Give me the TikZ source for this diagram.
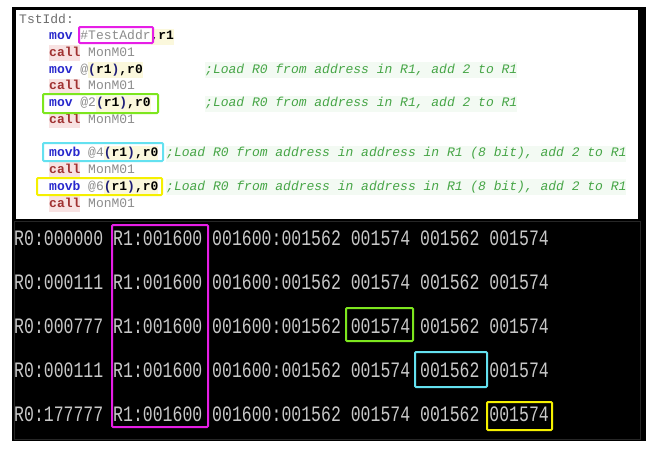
\documentclass[tikz,border=0pt]{standalone}
\usepackage{fontspec}
\usepackage{xcolor}
\newfontfamily\codefont{Liberation Mono}
\newfontfamily\termfont[FakeStretch=0.75]{Liberation Mono}
\definecolor{kwblue}{RGB}{40,40,205}
\definecolor{pnblue}{RGB}{30,30,120}
\definecolor{callred}{RGB}{160,50,50}
\definecolor{callbg}{RGB}{248,226,226}
\definecolor{regbg}{RGB}{251,248,220}
\definecolor{codegray}{RGB}{140,140,140}
\definecolor{lblgray}{RGB}{110,110,110}
\definecolor{comgreen}{RGB}{70,165,70}
\definecolor{combg}{RGB}{243,250,243}
\definecolor{termgray}{RGB}{200,200,200}
\definecolor{termedge}{RGB}{38,38,38}
\definecolor{boxmag}{RGB}{230,30,230}
\definecolor{boxgreen}{RGB}{125,230,30}
\definecolor{boxcyan}{RGB}{100,225,240}
\definecolor{boxyellow}{RGB}{245,240,0}
\setlength{\fboxsep}{0pt}
\newcommand\cKw[1]{\textcolor{kwblue}{\bfseries #1}}
\newcommand\cPn[1]{\textcolor{pnblue}{#1}}
\newcommand\cCall{\colorbox{callbg}{\strut\textcolor{callred}{\bfseries call}}}
\newcommand\cGr[1]{\textcolor{codegray}{#1}}
\newcommand\cRg[1]{\colorbox{regbg}{\strut\textcolor{black}{\bfseries #1}}}
\newcommand\cCom[1]{\colorbox{combg}{\strut\textcolor{comgreen}{\itshape #1}}}
\tikzset{
  code/.style={anchor=base west, inner sep=0pt, font=\codefont\fontsize{13}{16}\selectfont},
  term/.style={anchor=base west, inner sep=0pt, text=termgray, font=\termfont\fontsize{22}{22}\selectfont},
  hlbox/.style={draw=#1, line width=2pt, rounded corners=1pt},
}
\begin{document}
\begin{tikzpicture}[x=1pt,y=-1pt]
\useasboundingbox (0,0) rectangle (656,453);
\fill[white] (0,0) rectangle (656,453);
% frames
\fill[black] (12,7) rectangle (646,441);
\fill[white] (16,10) rectangle (638,219);
\draw[termedge, line width=0.8pt] (14,221) rectangle (640,439);
% code listing
\node[code, text=lblgray] (l0) at (19,23) {TstIdd:};
\node[code] (l1) at (49,39.7) {\cKw{mov} \cGr{\#TestAddr}\cRg{,r1}};
\node[code] (l2) at (49,56.5) {\cCall{} \cGr{MonM01}};
\node[code] (l3) at (49,73.2) {\cKw{mov} \cGr{@}\cRg{\cPn{(}r1\cPn{)},r0}};
\node[code] (c3) at (205,73.2) {\cCom{;Load R0 from address in R1, add 2 to R1}};
\node[code] (l4) at (49,89.9) {\cCall{} \cGr{MonM01}};
\node[code] (l5) at (49,106.7) {\cKw{mov} \cGr{@2}\cRg{\cPn{(}r1\cPn{)},r0}};
\node[code] (c5) at (205,106.7) {\cCom{;Load R0 from address in R1, add 2 to R1}};
\node[code] (l6) at (49,123.4) {\cCall{} \cGr{MonM01}};
\node[code] (l8) at (49,156.8) {\cKw{movb} \cGr{@4}\cRg{\cPn{(}r1\cPn{)},r0}};
\node[code] (c8) at (166,156.8) {\cCom{;Load R0 from address in address in R1 (8 bit), add 2 to R1}};
\node[code] (l9) at (49,173.6) {\cCall{} \cGr{MonM01}};
\node[code] (l10) at (49,190.3) {\cKw{movb} \cGr{@6}\cRg{\cPn{(}r1\cPn{)},r0}};
\node[code] (c10) at (166,190.3) {\cCom{;Load R0 from address in address in R1 (8 bit), add 2 to R1}};
\node[code] (l11) at (49,207) {\cCall{} \cGr{MonM01}};
% code highlight boxes
\draw[hlbox=boxmag] (79,27) rectangle (153,43);
\draw[hlbox=boxgreen] (43,94) rectangle (158,113);
\draw[hlbox=boxcyan] (43,143) rectangle (163,161);
\draw[hlbox=boxyellow] (37,178) rectangle (162,195);
% terminal output
\foreach \k/\rz in {0/000000,1/000111,2/000777,3/000111,4/177777}{
  \pgfmathsetmacro{\yb}{245.3+44*\k}
  \node[term] (r0\k) at (14,\yb) {R0:\rz};
  \node[term] (r1\k) at (113,\yb) {R1:001600};
  \node[term] (ad\k) at (212,\yb) {001600:001562};
  \node[term] (va\k) at (350.6,\yb) {001574};
  \node[term] (vb\k) at (419.9,\yb) {001562};
  \node[term] (vc\k) at (489.2,\yb) {001574};
}
% terminal highlight boxes
\draw[hlbox=boxmag] (112,225) rectangle (208,427);
\draw[hlbox=boxgreen] (346,308) rectangle (413,341);
\draw[hlbox=boxcyan] (415,352) rectangle (487,387);
\draw[hlbox=boxyellow] (487,402) rectangle (552,430);
\end{tikzpicture}
\end{document}
